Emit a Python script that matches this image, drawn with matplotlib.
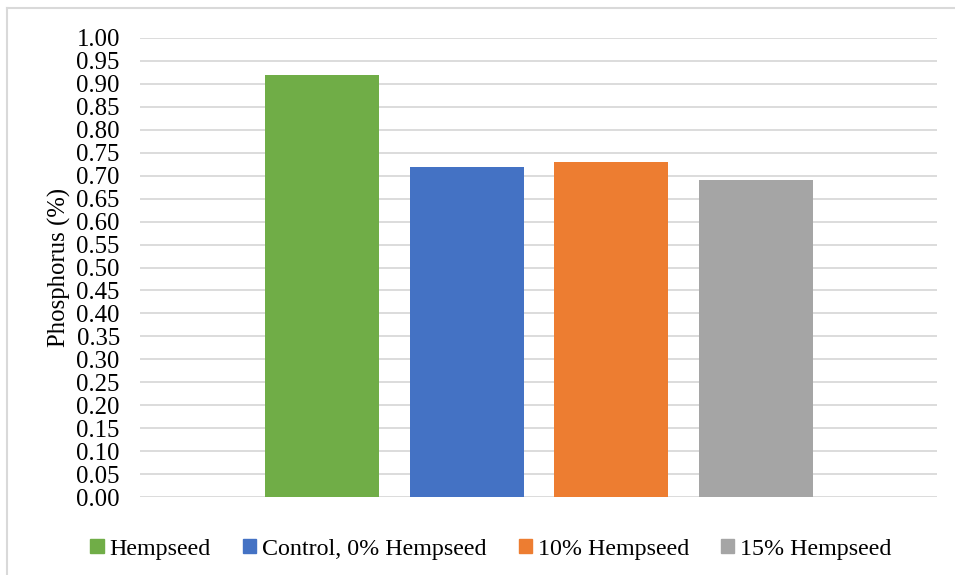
import matplotlib.pyplot as plt
from matplotlib.lines import Line2D
import numpy as np

plt.rcParams['font.family'] = ['Liberation Serif', 'DejaVu Serif']

# phosphorus content per diet / ingredient
series = ["Hempseed", "Control, 0% Hempseed", "10% Hempseed", "15% Hempseed"]
phosphorus = [0.92, 0.72, 0.73, 0.69]
colors = ["#70ad47", "#4472c4", "#ed7d31", "#a5a5a5"]
yticks = np.round(np.arange(0, 1.0001, 0.05), 2)

W, H = 955, 575
FS = 17.8
fig = plt.figure(figsize=(W / 100, H / 100), dpi=100)
ax = fig.add_axes([140 / W, 1 - 497 / H, 797 / W, 459 / H])

x = np.arange(len(series))
for i, (name, val, c) in enumerate(zip(series, phosphorus, colors)):
    ax.bar(x[i], val, width=0.79, color=c, label=name, zorder=3)

ax.set_xlim(-1.26, 4.255)
ax.set_ylim(0, 1.0)
ax.set_yticks(yticks)
ax.set_yticklabels([f"{t:.2f}" for t in yticks], fontsize=FS)
ax.set_xticks([])
ax.tick_params(axis="y", length=0, pad=14.5)
ax.yaxis.grid(True, color="#d9d9d9", linewidth=1.3, zorder=0)
for s in ax.spines.values():
    s.set_visible(False)

ax.set_ylabel("Phosphorus (%)", fontsize=FS)
ax.yaxis.set_label_coords((71 - 140) / 797, 0.5)

handles = [plt.Rectangle((0, 0), 1, 1, color=c) for c in colors]
fig.legend(handles, series, loc="center", bbox_to_anchor=(491 / W, 1 - 549 / H),
           ncol=4, frameon=False, fontsize=17.3, handlelength=0.55, handleheight=0.55,
           handletextpad=0.25, columnspacing=1.33)

# outer chart border (top and left edges)
fig.add_artist(Line2D([7 / W, 1], [1 - 8 / H, 1 - 8 / H], color="#d9d9d9", lw=1.5))
fig.add_artist(Line2D([7 / W, 7 / W], [0, 1 - 8 / H], color="#d9d9d9", lw=1.5))

fig.savefig("out.png", dpi=100)
